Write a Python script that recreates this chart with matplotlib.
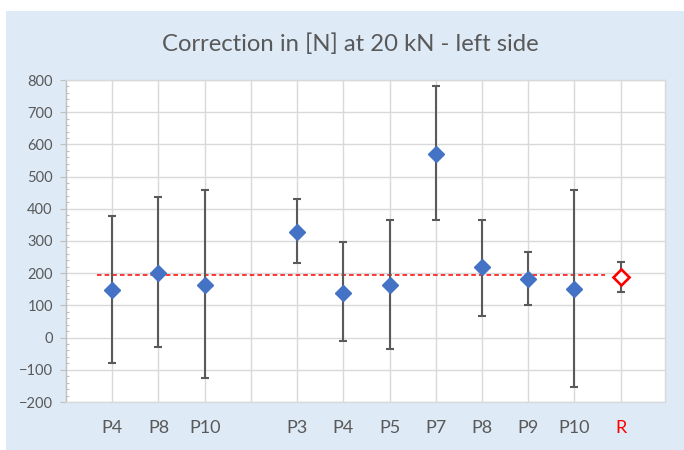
import matplotlib
matplotlib.use('Agg')
import matplotlib.pyplot as plt
import numpy as np
from matplotlib.patches import Rectangle

# categories along the x axis ('' is an empty slot)
categories = ['P4', 'P8', 'P10', '', 'P3', 'P4', 'P5', 'P7', 'P8', 'P9', 'P10', 'R']

# measured corrections (blue diamonds) with error bar ends
meas_idx = [0, 1, 2, 4, 5, 6, 7, 8, 9, 10]
meas_val = [147, 200, 162, 328, 140, 163, 569, 218, 181, 152]
meas_top = [377, 436, 459, 431, 296, 366, 781, 366, 265, 459]
meas_bot = [-80, -29, -126, 232, -12, -35, 366, 66, 100, -153]

# reference point (red open diamond)
ref_idx = 11
ref_val = 189
ref_top = 236
ref_bot = 141

# dashed reference level and its x span (in category units)
level_val = 195
level_span = [0.67, 11.67]

BLUE = '#4472C4'
GREY_TXT = '#595959'
BAR_COL = '#5A5A5A'
GRID = '#D9D9D9'

plt.rcParams['font.family'] = ['Lato', 'DejaVu Sans']

fig = plt.figure(figsize=(6.84, 4.5), dpi=100)
fig.patch.set_facecolor('white')
fig.patches.append(Rectangle((6 / 684, 0), 1, (450 - 11) / 450,
                             transform=fig.transFigure, facecolor='#DEEAF6',
                             edgecolor='none', zorder=-10))

ax = fig.add_axes([66 / 684, 1 - 402 / 450, (665 - 66) / 684, (402 - 80) / 450])
ax.set_facecolor('white')

x = np.arange(1, len(categories) + 1)
mx = x[meas_idx]
mv = np.array(meas_val)
yerr = [mv - np.array(meas_bot), np.array(meas_top) - mv]

# reference level line
ax.plot(level_span, [level_val, level_val], color='#FF0000', lw=1.1,
        linestyle=(0, (3, 2)), zorder=3)

ax.errorbar(mx, mv, yerr=yerr, fmt='none', ecolor=BAR_COL, elinewidth=1.5,
            capsize=3, capthick=1.5, zorder=4)
ax.plot(mx, mv, linestyle='none', marker='D', markersize=8.6,
        color=BLUE, markeredgecolor=BLUE, zorder=5)

rx = x[ref_idx]
ax.errorbar([rx], [ref_val], yerr=[[ref_val - ref_bot], [ref_top - ref_val]],
            fmt='none', ecolor=BAR_COL, elinewidth=1.5, capsize=3,
            capthick=1.5, zorder=4)
ax.plot([rx], [ref_val], linestyle='none', marker='D', markersize=7.8,
        markerfacecolor='white', markeredgecolor='#FF0000',
        markeredgewidth=1.9, zorder=5)

ax.set_xlim(0, 12.96)
ax.set_ylim(-200, 800)
ax.set_xticks(x)
ax.set_xticklabels(categories)
ax.set_yticks(np.arange(-200, 801, 100))
ax.set_yticks(np.arange(-200, 801, 20), minor=True)

ax.grid(True, which='major', color=GRID, lw=1.0)
ax.set_axisbelow(True)

ax.tick_params(axis='x', length=0, pad=13, labelsize=13, labelcolor=GREY_TXT)
ax.tick_params(axis='y', which='major', length=4.5, width=0.8, color='#BFBFBF',
               pad=5, labelsize=10.5, labelcolor=GREY_TXT, direction='out')
ax.tick_params(axis='y', which='minor', length=2.5, width=0.8, color='#BFBFBF',
               direction='in')
ax.tick_params(axis='x', which='minor', length=0)
ax.get_xticklabels()[ref_idx].set_color('#FF0000')

for side in ['top', 'right', 'bottom']:
    ax.spines[side].set_color(GRID)
    ax.spines[side].set_linewidth(1.0)
ax.spines['left'].set_color('#BFBFBF')
ax.spines['left'].set_linewidth(1.0)

fig.text(350 / 684, 1 - 44 / 450, 'Correction in [N] at 20 kN - left side',
         ha='center', va='center', fontsize=17.2, color=GREY_TXT)

fig.savefig('out.png', dpi=100)
